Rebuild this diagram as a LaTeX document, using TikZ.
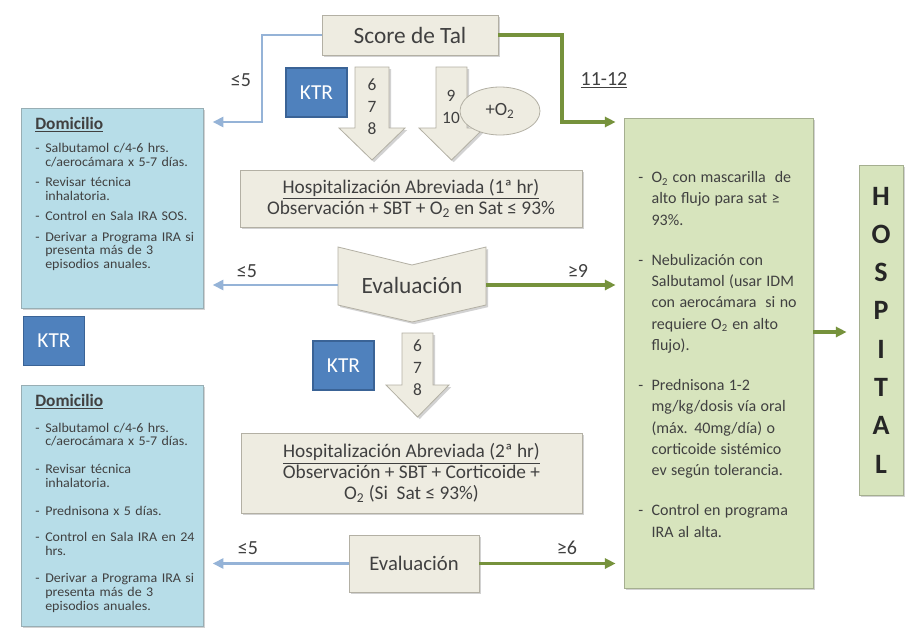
\documentclass[tikz,border=0pt]{standalone}
\usepackage{fontspec}
\setmainfont{Carlito}
\newfontfamily\listfont[FakeStretch=1.05]{Carlito}
\usepackage{tikz}
\usetikzlibrary{arrows.meta}
\usetikzlibrary{shapes,shadows}
\usepackage{xcolor}
\definecolor{beigefill}{HTML}{EEECE1}
\definecolor{beigeline}{HTML}{B3B0A4}
\definecolor{domifill}{HTML}{B7DDE8}
\definecolor{domiline}{HTML}{98AEB4}
\definecolor{ktrfill}{HTML}{4F81BD}
\definecolor{ktrline}{HTML}{3A6396}
\definecolor{hospfill}{HTML}{D7E4BD}
\definecolor{hospline}{HTML}{A5AF90}
\definecolor{lineblue}{HTML}{95B3D7}
\definecolor{linegreen}{HTML}{76923C}
\definecolor{textgray}{HTML}{404040}
\newcommand{\listdash}[1]{\par\hangindent=#1\hangafter=1\noindent\makebox[#1][l]{-}}
\tikzset{
    boxshadow/.style={
        drop shadow={shadow xshift=1.6pt, shadow yshift=-1.6pt, opacity=0.35}
    },
    beigebox/.style={
        draw=beigeline,
        fill=beigefill,
        line width=0.6pt,
        boxshadow,
        text=textgray,
        align=center
    },
    domibox/.style={
        draw=domiline,
        fill=domifill,
        line width=0.6pt,
        boxshadow,
        minimum width=136.5pt
    },
    ktrbox/.style={
        draw=ktrline,
        fill=ktrfill,
        line width=0.8pt,
        text=white,
        font=\fontsize{16}{18}\selectfont,
        minimum width=45.75pt,
        minimum height=36.75pt
    },
    greenbox/.style={
        draw=hospline,
        fill=hospfill,
        line width=0.6pt,
        boxshadow
    },
    blockarrow/.style={
        draw=beigeline,
        fill=beigefill,
        line width=0.6pt,
        boxshadow
    },
    blueline/.style={
        draw=lineblue,
        line width=2.2pt,
        -{Triangle[length=8pt, width=7.5pt]},
        shorten >=7pt
    },
    greenline/.style={
        draw=linegreen,
        line width=2.5pt,
        -{Triangle[length=8pt, width=7.5pt]},
        shorten >=6pt
    },
    scorelabel/.style={
        text=textgray,
        font=\fontsize{15}{17}\selectfont
    },
    listtext/.style={
        text=textgray,
        align=left,
        inner sep=0pt
    },
    digits/.style={
        text=textgray,
        align=center,
        font=\fontsize{13}{16.5}\selectfont
    }
}

\begin{document}
\begin{tikzpicture}[x=0.75pt, y=-0.75pt]
    \useasboundingbox[fill=white] (0,0) rectangle (920,628);

    % score and the two block arrows
    \node[beigebox, minimum width=132pt, minimum height=30pt, font=\fontsize{17.5}{19}\selectfont] (score) at (410,35) {Score de Tal};
    \filldraw[blockarrow] (355,67) -- (389,67) -- (389,128) -- (405,128) -- (372,160) -- (339,128) -- (355,128) -- cycle;
    \filldraw[blockarrow] (436,67) -- (467,67) -- (467,128) -- (484,128) -- (451.5,160) -- (419,128) -- (436,128) -- cycle;
    \node[digits] (low1) at (372,107) {6\\7\\8};
    \node[digits] (mid1) at (451,107) {9\\10};
    \node[draw=beigeline, fill=beigefill, line width=0.6pt, ellipse, minimum width=60pt, minimum height=36pt, text=textgray, font=\fontsize{14}{16}\selectfont] (oxy) at (500,111) {+O\textsubscript{2}};
    \node[ktrbox] (ktr1) at (316.5,92.5) {KTR};

    % first hour
    \node[beigebox, minimum width=256.5pt, minimum height=42.75pt, font=\fontsize{14.5}{16}\selectfont] (hosp1) at (411,198.5)
        {\underline{Hospitalización Abreviada (1ª hr)}\\Observación + SBT + O\textsubscript{2} en Sat ≤ 93\%};
    \filldraw[blockarrow] (338,247) -- (412,265) -- (486,247) -- (486,305) -- (412,322) -- (338,305) -- cycle;
    \node[text=textgray, font=\fontsize{17.5}{19}\selectfont] (eval1) at (412,285) {Evaluación};
    \coordinate (chevL) at (338,285);
    \coordinate (chevR) at (486,285);

    % second hour
    \filldraw[blockarrow] (402,333) -- (433,333) -- (433,385) -- (449,385) -- (417.5,417) -- (386,385) -- (402,385) -- cycle;
    \node[digits] (low2) at (417.5,368) {6\\7\\8};
    \node[ktrbox] (ktr3) at (343.5,365.5) {KTR};
    \node[beigebox, minimum width=255.75pt, minimum height=60pt, font=\fontsize{14.5}{15.5}\selectfont] (hosp2) at (411.5,473)
        {\underline{Hospitalización Abreviada (2ª hr)}\\Observación + SBT + Corticoide +\\O\textsubscript{2} (Si\ \ Sat ≤ 93\%)};
    \node[beigebox, minimum width=97.5pt, minimum height=42.75pt, font=\fontsize{15.5}{17}\selectfont] (eval2) at (414,563.5) {Evaluación};

    % home boxes
    \node[domibox, minimum height=150pt] (dom1) at (112,208) {};
    \node[listtext, anchor=north west, text width=150pt] (dom1txt) at (35,117) {%
        {\fontsize{13}{14}\selectfont\textbf{\underline{Domicilio}}}\par\vspace{7pt}
        \listfont\fontsize{10}{10.3}\selectfont
        \listdash{7.5pt}Salbutamol c/4-6 hrs.\newline c/aerocámara x 5-7 días.\par\vspace{5pt}
        \listdash{7.5pt}Revisar técnica\newline inhalatoria.\par\vspace{5pt}
        \listdash{7.5pt}Control en Sala IRA SOS.\par\vspace{5pt}
        \listdash{7.5pt}Derivar a Programa IRA si\newline presenta más de 3\newline episodios anuales.\par};
    \node[ktrbox] (ktr2) at (54,341) {KTR};
    \node[domibox, minimum height=180.75pt] (dom2) at (112,505.5) {};
    \node[listtext, anchor=north west, text width=150pt] (dom2txt) at (35,394) {%
        {\fontsize{13}{14}\selectfont\textbf{\underline{Domicilio}}}\par\vspace{9pt}
        \listfont\fontsize{10}{10.3}\selectfont
        \listdash{7.5pt}Salbutamol c/4-6 hrs.\newline c/aerocámara x 5-7 días.\par\vspace{10.5pt}
        \listdash{7.5pt}Revisar técnica\newline inhalatoria.\par\vspace{11pt}
        \listdash{7.5pt}Prednisona x 5 días.\par\vspace{9pt}
        \listdash{7.5pt}Control en Sala IRA en 24\newline hrs.\par\vspace{10.5pt}
        \listdash{7.5pt}Derivar a Programa IRA si\newline presenta más de 3\newline episodios anuales.\par};

    % hospital side
    \node[greenbox, minimum width=141.75pt, minimum height=352.5pt] (green) at (718.5,353) {};
    \node[listtext, anchor=north west, text width=132pt] (greentxt) at (638,161) {%
        \fontsize{12}{16}\selectfont
        \listdash{10pt}O\textsubscript{2} con mascarilla\ \ de\newline alto flujo para sat ≥\newline 93\%.\par\vspace{14pt}
        \listdash{10pt}Nebulización con\newline Salbutamol (usar IDM\newline con aerocámara\ \ si no\newline requiere O\textsubscript{2} en alto\newline flujo).\par\vspace{14pt}
        \listdash{10pt}Prednisona 1-2\newline mg/kg/dosis vía oral\newline (máx. 40mg/día) o\newline corticoide sistémico\newline ev según tolerancia.\par\vspace{14pt}
        \listdash{10pt}Control en programa\newline IRA al alta.\par};
    \node[greenbox, minimum width=33pt, minimum height=247.5pt, align=center, text=black!85,
        font=\fontsize{21}{28.7}\selectfont\bfseries] (hospital) at (881,330) {H\\O\\S\\P\\I\\T\\A\\L};

    % connectors
    \draw[blueline] (score.west) -| (262,122) -- (dom1.east |- 262,122);
    \draw[greenline] (score.east) -| (562,122) -- (green.west |- 562,122);
    \draw[blueline] (chevL) -- (dom1.east |- chevL);
    \draw[greenline] (chevR) -- (green.west |- chevR);
    \draw[blueline] (eval2.west) -- (dom2.east |- eval2.west);
    \draw[greenline] (eval2.east) -- (green.west |- eval2.east);
    \draw[greenline, shorten >=9pt] (green.east |- 0,332) -- (hospital.west |- 0,332);

    % labels
    \node[scorelabel] (lab1) at (241,80) {≤5};
    \node[scorelabel] (lab2) at (604,80) {\underline{11-12}};
    \node[scorelabel] (lab3) at (247,271) {≤5};
    \node[scorelabel] (lab4) at (578,271) {≥9};
    \node[scorelabel] (lab5) at (248,548) {≤5};
    \node[scorelabel] (lab6) at (567,548) {≥6};
\end{tikzpicture}
\end{document}
